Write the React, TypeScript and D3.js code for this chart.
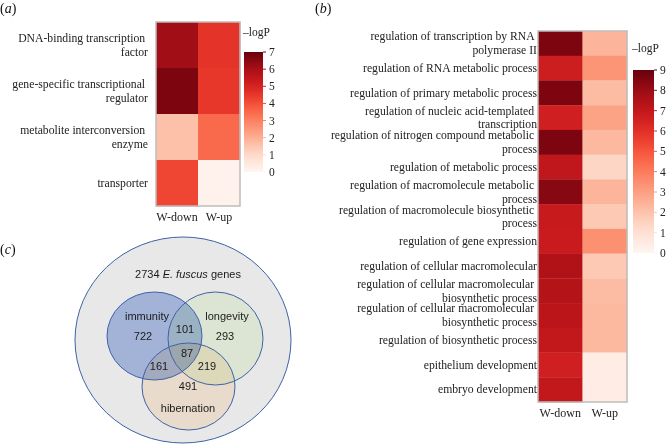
import React from "react";
import * as d3 from "d3";

// ---------- data ----------
const groups = ["W-down", "W-up"];

const aCategories = [
  "DNA-binding transcription \nfactor",
  "gene-specific transcriptional \nregulator",
  "metabolite interconversion \nenzyme",
  "transporter",
];
const aDown = [6.1, 6.7, 1.6, 4.2];
const aUp = [4.6, 4.5, 3.5, 0.15];
const aTicks = [0, 1, 2, 3, 4, 5, 6, 7];

const bCategories = [
  "regulation of transcription by RNA \npolymerase II",
  "regulation of RNA metabolic process",
  "regulation of primary metabolic process",
  "regulation of nucleic acid-templated \ntranscription",
  "regulation of nitrogen compound metabolic \nprocess",
  "regulation of metabolic process",
  "regulation of macromolecule metabolic \nprocess",
  "regulation of macromolecule biosynthetic \nprocess",
  "regulation of gene expression",
  "regulation of cellular macromolecular",
  "regulation of cellular macromolecular \nbiosynthetic process",
  "regulation of cellular macromolecular \nbiosynthetic process",
  "regulation of biosynthetic process",
  "epithelium development",
  "embryo development",
];
const bDown = [8.6, 6.7, 8.6, 6.6, 8.6, 7.1, 8.4, 6.9, 6.8, 7.5, 7.4, 7.2, 7.0, 6.6, 7.0];
const bUp = [2.4, 3.3, 2.2, 2.9, 2.3, 1.4, 2.4, 1.8, 3.4, 1.8, 2.2, 2.3, 2.3, 0.45, 0.4];
const bTicks = [0, 1, 2, 3, 4, 5, 6, 7, 8, 9];

const vennSets = ["immunity", "longevity", "hibernation"];
const vennOnly = [722, 293, 491];
const vennPairLabels = ["immunity&longevity", "immunity&hibernation", "longevity&hibernation"];
const vennPairs = [101, 161, 219];
const vennAll = 87;
const vennTotal = 2734;

// ---------- styles ----------
const SERIF = "'Liberation Serif', 'Times New Roman', serif";
const SANS = "'Liberation Sans', Arial, Helvetica, sans-serif";
const LABEL_SIZE = 11.7;

type HeatProps = {
  id: string;
  categories: string[];
  down: number[];
  up: number[];
  ticks: number[];
  x0: number; x1: number; y0: number; y1: number;
  labelRight: number;
  xLabelY: number;
  legX: number; legW: number; legTop: number; legBottom: number;
  titleY: number;
};

function Heatmap(p: HeatProps) {
  const max = p.ticks[p.ticks.length - 1];
  const color = d3.scaleSequential(d3.interpolateReds).domain([0, max]);
  const xs = d3.scaleBand<string>().domain(groups).range([p.x0, p.x1]);
  const ys = d3.scaleBand<string>().domain(p.categories.map((c, i) => i + "")).range([p.y0, p.y1]);
  const ly = d3.scaleLinear().domain([0, max]).range([p.legBottom, p.legTop]);
  const stops = d3.range(0, 1.0001, 0.05);
  const gid = "grad-" + p.id;
  return (
    <g>
      <defs>
        <linearGradient id={gid} x1="0" y1="1" x2="0" y2="0">
          {stops.map((t) => (
            <stop key={t} offset={t} stopColor={color(t * max)} />
          ))}
        </linearGradient>
      </defs>
      {p.categories.map((c, i) => {
        const y = ys(i + "")!;
        const vals = [p.down[i], p.up[i]];
        return (
          <g key={i}>
            {groups.map((g, j) => (
              <rect key={g} x={xs(g)} y={y} width={xs.bandwidth() + 0.3} height={ys.bandwidth() + 0.3} fill={color(vals[j])} />
            ))}
          </g>
        );
      })}
      <rect x={p.x0} y={p.y0} width={p.x1 - p.x0} height={p.y1 - p.y0} fill="none" stroke="#bdbdbd" strokeWidth={1.5} />
      {p.categories.map((c, i) => {
        const cy = ys(i + "")! + ys.bandwidth() / 2;
        const lines = c.split("\n");
        const ysL = lines.length === 1 ? [cy + 3.8] : [cy - 3, cy + 10.8];
        return lines.map((l, k) => (
          <text key={i + "-" + k} x={p.labelRight} y={ysL[k]} textAnchor="end" fontFamily={SERIF} fontSize={LABEL_SIZE} fill="#222" style={{ whiteSpace: "pre" }}>
            {l}
          </text>
        ));
      })}
      {groups.map((g) => (
        <text key={g} x={xs(g)! + xs.bandwidth() / 2} y={p.xLabelY} textAnchor="middle" fontFamily={SERIF} fontSize={12} fill="#222">
          {g}
        </text>
      ))}
      <text x={p.legX - 1} y={p.titleY} fontFamily={SERIF} fontSize={11.5} fill="#222">–logP</text>
      <rect x={p.legX} y={p.legTop} width={p.legW} height={p.legBottom - p.legTop} fill={`url(#${gid})`} />
      {p.ticks.map((t) => (
        <g key={t}>
          <line x1={p.legX + p.legW} x2={p.legX + p.legW + 3} y1={ly(t)} y2={ly(t)} stroke={color(t)} strokeWidth={1} />
          <text x={p.legX + p.legW + 6} y={ly(t) + 4} fontFamily={SERIF} fontSize={11.5} fill="#222">{t}</text>
        </g>
      ))}
    </g>
  );
}

function Venn() {
  const outer = { cx: 183, cy: 340, rx: 108, ry: 103 };
  const circles = [
    { cx: 154.5, cy: 336, rx: 47.5, ry: 44, fill: "#b3c5ee" },
    { cx: 215.5, cy: 338.5, rx: 47.5, ry: 46.5, fill: "#f2fce8" },
    { cx: 188.5, cy: 386.5, rx: 46.5, ry: 43.5, fill: "#fff1e1" },
  ];
  const stroke = "#3f62a6";
  const txt = { fontFamily: SANS, fontSize: 11, fill: "#1a1a1a", textAnchor: "middle" as const };
  const setLabelPos = [
    [147, 320],
    [227, 320],
    [188, 412],
  ];
  const onlyPos = [
    [143, 340],
    [225, 340],
    [188, 390],
  ];
  const pairPos = [
    [185, 333],
    [159, 370],
    [207, 370],
  ];
  return (
    <g>
      <ellipse {...outer} fill="#e8e8e8" stroke={stroke} strokeWidth={1} />
      {circles.map((c, i) => (
        <ellipse key={i} cx={c.cx} cy={c.cy} rx={c.rx} ry={c.ry} fill={c.fill} style={{ mixBlendMode: "multiply" }} />
      ))}
      {circles.map((c, i) => (
        <ellipse key={"s" + i} cx={c.cx} cy={c.cy} rx={c.rx} ry={c.ry} fill="none" stroke={stroke} strokeWidth={1} />
      ))}
      <text x={188} y={278} {...txt}>
        {vennTotal} <tspan fontStyle="italic">E. fuscus</tspan> genes
      </text>
      {vennSets.map((s, i) => (
        <text key={s} x={setLabelPos[i][0]} y={setLabelPos[i][1]} {...txt}>{s}</text>
      ))}
      {vennOnly.map((v, i) => (
        <text key={"o" + i} x={onlyPos[i][0]} y={onlyPos[i][1]} {...txt}>{v}</text>
      ))}
      {vennPairs.map((v, i) => (
        <text key={vennPairLabels[i]} x={pairPos[i][0]} y={pairPos[i][1]} {...txt}>{v}</text>
      ))}
      <text x={187} y={357} {...txt}>{vennAll}</text>
    </g>
  );
}

function PanelLabel({ x, y, letter }: { x: number; y: number; letter: string }) {
  return (
    <text x={x} y={y} fontFamily={SERIF} fontSize={14} fill="#111">
      (<tspan fontStyle="italic">{letter}</tspan>)
    </text>
  );
}

export default function App() {
  return (
    <svg width={672} height={447} style={{ position: "absolute", left: 0, top: 0, background: "#fff" }}>
      <PanelLabel x={0} y={13} letter="a" />
      <PanelLabel x={315} y={13} letter="b" />
      <PanelLabel x={0} y={254} letter="c" />
      <Heatmap
        id="a"
        categories={aCategories}
        down={aDown}
        up={aUp}
        ticks={aTicks}
        x0={156} x1={240} y0={22} y1={206}
        labelRight={148}
        xLabelY={221}
        legX={244} legW={19} legTop={52} legBottom={172}
        titleY={36}
      />
      <Heatmap
        id="b"
        categories={bCategories}
        down={bDown}
        up={bUp}
        ticks={bTicks}
        x0={538} x1={627} y0={31} y1={402}
        labelRight={537}
        xLabelY={417}
        legX={633} legW={21} legTop={70} legBottom={253}
        titleY={52}
      />
      <Venn />
    </svg>
  );
}
